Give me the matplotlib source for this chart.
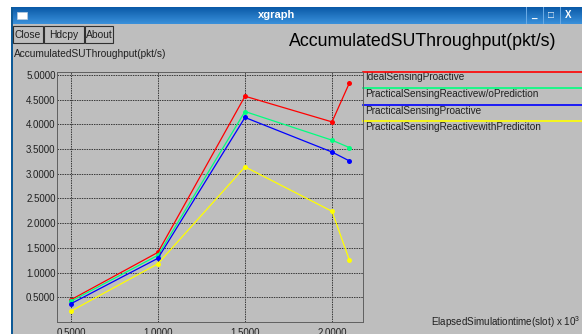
import numpy as np
import matplotlib
matplotlib.use('Agg')
import matplotlib.pyplot as plt
from matplotlib.lines import Line2D
from matplotlib.patches import Rectangle

plt.rcParams['font.family'] = ['Liberation Sans', 'DejaVu Sans']

# data
x = [0.5, 1.0, 1.5, 2.0, 2.1]
ideal_proactive = [0.45, 1.41, 4.57, 4.05, 4.84]
practical_reactive_wo = [0.42, 1.35, 4.26, 3.68, 3.53]
practical_proactive = [0.37, 1.29, 4.14, 3.44, 3.26]
practical_reactive_with = [0.22, 1.18, 3.14, 2.24, 1.25]

labels = ['IdealSensingProactive', 'PracticalSensingReactivew/oPrediction',
          'PracticalSensingProactive', 'PracticalSensingReactivewithPrediciton']
colors = ['#ff0000', '#00ff7f', '#0000ff', '#ffff00']
series = [ideal_proactive, practical_reactive_wo, practical_proactive,
          practical_reactive_with]

xticks = [0.5, 1.0, 1.5, 2.0]
yticks = [0.5, 1.0, 1.5, 2.0, 2.5, 3.0, 3.5, 4.0, 4.5, 5.0]

W, H = 582, 334
bg = '#bebebe'
fig = plt.figure(figsize=(W / 100, H / 100), dpi=100, facecolor='white')

# window chrome, in pixel coordinates
chrome = fig.add_axes([0, 0, 1, 1])
chrome.set_xlim(0, W)
chrome.set_ylim(H, 0)
chrome.axis('off')
chrome.add_patch(Rectangle((11, 24), W, H, color=bg, lw=0))
grad = np.linspace(0, 1, 32).reshape(-1, 1)
chrome.imshow(grad, extent=(11, W, 24, 7), aspect='auto',
              cmap=matplotlib.colors.LinearSegmentedColormap.from_list(
                  'tb', ['#0a5aa8', '#3a90da']), zorder=1)
chrome.add_patch(Rectangle((11, 7), 2, H, color='#0e5a96', lw=0, zorder=2))
chrome.add_patch(Rectangle((17, 12), 10, 7, facecolor='white',
                           edgecolor='#bcd', lw=0.5, zorder=3))
chrome.text(277, 15.5, 'xgraph', color='white', fontsize=8, fontweight='bold',
            ha='center', va='center', zorder=3)
for bx, sym in [(534, '_'), (551, '\u25a1'), (568, 'X')]:
    chrome.add_patch(Rectangle((bx - 8, 7), 1, 17, color='#6aaae4', lw=0,
                               zorder=2))
    chrome.text(bx, 15.5, sym, color='white', fontsize=7, fontweight='bold',
                ha='center', va='center', zorder=3)

for (x0, x1, txt) in [(13, 43, 'Close'), (44, 84, 'Hdcpy'), (85, 113, 'About')]:
    chrome.add_patch(Rectangle((x0, 25.5), x1 - x0, 17.5, facecolor=bg,
                               edgecolor='#303030', lw=0.8, zorder=2))
    chrome.text((x0 + x1) / 2, 34.5, txt, fontsize=7.4, color='#202020',
                ha='center', va='center', zorder=3)

chrome.text(423, 42, 'AccumulatedSUThroughput(pkt/s)', fontsize=12.8,
            color='black', ha='center', va='center')
chrome.text(14, 54, 'AccumulatedSUThroughput(pkt/s)', fontsize=7.3,
            color='#202020', ha='left', va='center')
chrome.text(580, 322, r'ElapsedSimulationtime(slot) x 10$^{\mathregular{3}}$',
            fontsize=7.1, color='#202020', ha='right', va='center')

# legend: coloured line with the name below it, right of the plot
leg_y = [71.5, 88, 104.5, 121]
for lab, col, ly in zip(labels, colors, leg_y):
    chrome.add_line(Line2D([363, W], [ly, ly], color=col, lw=1.2, zorder=4))
    chrome.text(365, ly + 6, lab, fontsize=7.2, color='#202020',
                ha='left', va='center')

# plot area
ax = fig.add_axes([57 / W, (H - 322) / H, 306 / W, 250 / H])
ax.patch.set_alpha(0)
ax.set_xlim(0.42, 2.178)
ax.set_ylim(0, 5.06)

for t in yticks:
    ax.axhline(t, color='#383838', lw=0.7, ls=(0, (1.5, 1)), zorder=1)
for t in xticks:
    ax.axvline(t, color='#383838', lw=0.7, ls=(0, (1.5, 1)), zorder=1)

for ys, col in zip(series, colors):
    ax.plot(x, ys, color=col, lw=0.9, marker='o', markersize=3.6,
            markeredgewidth=0, zorder=3)

for sp in ax.spines.values():
    sp.set_color('#606060')
    sp.set_linestyle((0, (1.5, 1)))
    sp.set_linewidth(0.7)

ax.set_xticks(xticks)
ax.set_yticks(yticks)
ax.set_xticklabels(['%.4f' % t for t in xticks])
ax.set_yticklabels(['%.4f' % t for t in yticks])
ax.tick_params(length=0, labelsize=7, labelcolor='#202020', pad=1)
ax.tick_params(axis='x', pad=4)

fig.savefig('out.png', dpi=100, facecolor='white')
